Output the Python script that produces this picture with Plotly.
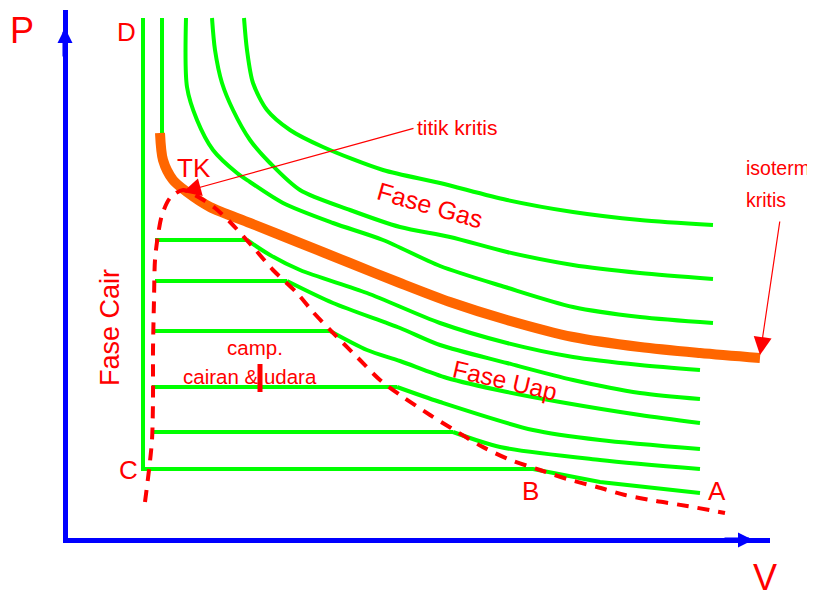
import plotly.graph_objects as go

GREEN = "#00ff00"
ORANGE = "#ff6600"
RED = "#ff0000"
BLUE = "#0000ff"
FONT = "Liberation Sans, Arial, sans-serif"

# ---------------- data (V, P in arbitrary schematic units) ----------------
# lowest isotherm: D (liquid) -> C -> B -> A
iso0_v = [78, 78, 468, 535, 635]
iso0_p = [522, 71, 71, 58, 47]

# tie lines inside the two-phase region
tie_v_start = [90, 90, 88, 87, 87]
tie_v_end = [182, 222, 265, 332, 388]
tie_p = [300, 259, 209, 153, 108]

# vapour branches of the sub-critical isotherms
iso1_v = [182, 205, 235, 302, 375, 442, 508, 575, 635]
iso1_p = [300, 285, 270, 247, 217, 197, 183, 175, 170]
iso2_v = [222, 268, 335, 375, 442, 508, 575, 635]
iso2_p = [259, 237, 212, 195, 177, 160, 147, 141]
iso3_v = [265, 302, 335, 382, 442, 495, 575, 635]
iso3_p = [209, 190, 179, 162, 148, 138, 125, 117]
iso4_v = [332, 375, 468, 535, 635]
iso4_p = [153, 138, 110, 100, 91]
iso5_v = [388, 435, 535, 635]
iso5_p = [108, 93, 80, 71]

# critical isotherm (liquid part + orange part)
crit_liq_v = [97, 97]
crit_liq_p = [522, 407]
crit_v = [95, 98, 108, 122, 145, 185, 235, 285, 335, 385, 442, 508, 575, 635, 695]
crit_p = [407, 380, 360, 348, 333, 317, 297, 277, 257, 238, 220, 203, 193, 187, 182]

# super-critical isotherms (gas phase)
gas1_v = [179, 182, 188, 202, 225, 258, 318, 375, 442, 508, 575, 648]
gas1_p = [522, 490, 457, 430, 410, 393, 370, 357, 340, 328, 320, 315]
gas2_v = [147, 150, 157, 168, 185, 205, 235, 285, 335, 385, 442, 508, 575, 648]
gas2_p = [522, 490, 457, 430, 400, 377, 350, 330, 313, 303, 288, 275, 267, 261]
gas3_v = [121, 122, 132, 148, 172, 185, 218, 268, 318, 375, 440, 508, 575, 648]
gas3_p = [522, 453, 420, 390, 367, 358, 337, 317, 300, 274, 253, 233, 223, 217]

# saturation dome (dashed)
dome_v = [80, 84, 87, 88, 88, 89, 90, 93, 97, 105, 118, 135, 150, 165, 188, 208,
          232, 248, 272, 292, 315, 338, 365, 386, 416, 443, 475, 502, 532, 560,
          591, 622, 660]
dome_p = [38, 70, 100, 140, 190, 240, 280, 305, 325, 342, 350, 342, 332, 318, 293,
          270, 247, 228, 203, 183, 160, 143, 125, 112, 94, 81, 70, 61, 53, 45, 39,
          34, 27]

# small marker inside the two-phase label
cursor_v = [195]
cursor_p = [162]

fig = go.Figure()

green_line = dict(color=GREEN, width=4)
fig.add_trace(go.Scatter(x=iso0_v, y=iso0_p, mode="lines", line=green_line))
for vs, ve, p in zip(tie_v_start, tie_v_end, tie_p):
    fig.add_trace(go.Scatter(x=[vs, ve], y=[p, p], mode="lines", line=green_line))
for xv, yp in [(iso1_v, iso1_p), (iso2_v, iso2_p), (iso3_v, iso3_p),
               (iso4_v, iso4_p), (iso5_v, iso5_p),
               (gas1_v, gas1_p), (gas2_v, gas2_p), (gas3_v, gas3_p)]:
    fig.add_trace(go.Scatter(x=xv, y=yp, mode="lines",
                             line=dict(color=GREEN, width=4, shape="spline", smoothing=0.8)))
fig.add_trace(go.Scatter(x=crit_liq_v, y=crit_liq_p, mode="lines", line=green_line))
fig.add_trace(go.Scatter(x=crit_v, y=crit_p, mode="lines",
                         line=dict(color=ORANGE, width=10, shape="spline", smoothing=0.8)))
fig.add_trace(go.Scatter(x=dome_v, y=dome_p, mode="lines",
                         line=dict(color=RED, width=4, dash="12px,9px",
                                   shape="spline", smoothing=0.8)))
fig.add_trace(go.Scatter(x=cursor_v, y=cursor_p, mode="markers", cliponaxis=False,
                         marker=dict(symbol="line-ns", size=20,
                                     line=dict(color=RED, width=5))))

def label(text, x, y, size, angle=0, xanchor="center", yanchor="middle", ref="data",
          pad=1):
    kw = {}
    if ref == "paper":
        kw = dict(xref="paper", yref="paper")
    fig.add_annotation(x=x, y=y, text=text, showarrow=False, textangle=angle,
                       xanchor=xanchor, yanchor=yanchor, borderpad=pad,
                       font=dict(family=FONT, size=size, color=RED), **kw)

label("P", -0.0655, 1.002, 36, yanchor="top", ref="paper", pad=0)
label("V", 0.993, -0.117, 36, yanchor="bottom", ref="paper")
label("D", 61, 508, 26)
label("TK", 129, 372, 26)
label("C", 63, 70, 26)
label("B", 465, 49, 26)
label("A", 652, 49, 26)
label("titik kritis", 392, 413, 21)
label("isoterm", 679, 372, 19.5, xanchor="left")
label("kritis", 679, 340, 19.5, xanchor="left")
label("Fase Gas", 365, 335, 25, angle=16)
label("Fase Uap", 440, 160, 24.5, angle=13)
label("Fase Cair", 45, 212, 27, angle=-90)
label("camp.", 190, 193, 20.5)
label("cairan & udara", 185, 164, 20.5)

# pointer arrows
fig.add_annotation(x=118, y=348, ax=350, ay=412, axref="x", ayref="y", text="",
                   showarrow=True, arrowhead=2, arrowsize=3, arrowwidth=1.2,
                   arrowcolor=RED)
fig.add_annotation(x=695, y=185, ax=715, ay=320, axref="x", ayref="y", text="",
                   showarrow=True, arrowhead=2, arrowsize=3, arrowwidth=1.2,
                   arrowcolor=RED)

# arrow heads on the P and V axes
fig.add_annotation(x=-0.0043, y=0.966, xref="paper", yref="paper", ax=0, ay=30,
                   text="", showarrow=True, arrowhead=2, arrowsize=0.6,
                   arrowwidth=5, arrowcolor=BLUE)
fig.add_annotation(x=0.9758, y=-0.0038, xref="paper", yref="paper", ax=-30, ay=0,
                   text="", showarrow=True, arrowhead=2, arrowsize=0.6,
                   arrowwidth=5, arrowcolor=BLUE)

axis_common = dict(showline=True, linewidth=5, linecolor=BLUE, showgrid=False,
                   zeroline=False, showticklabels=False, ticks="")
fig.update_xaxes(range=[3, 705], **axis_common)
fig.update_yaxes(range=[2, 530], **axis_common)
fig.update_layout(width=807, height=594, autosize=False, showlegend=False,
                  margin=dict(l=60, r=45, t=2, b=64),
                  plot_bgcolor="white", paper_bgcolor="white")

fig.write_html("out.html")
